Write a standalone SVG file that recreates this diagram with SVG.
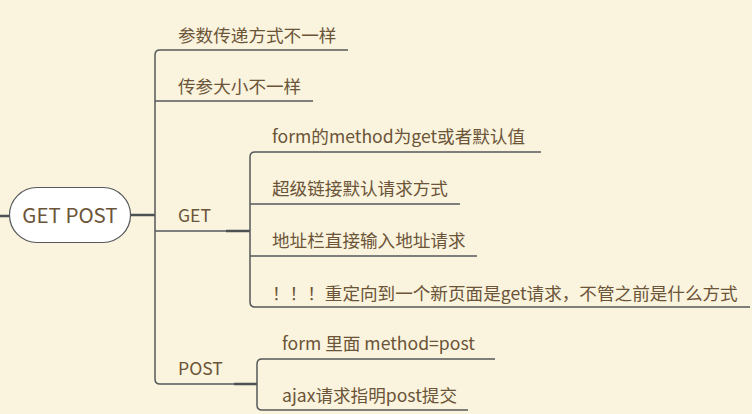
<svg xmlns="http://www.w3.org/2000/svg" width="752" height="414" viewBox="0 0 752 414">
<style>
.t{font-family:"Noto Sans CJK SC","Liberation Sans",sans-serif;font-size:17.6px;fill:#6b5438}
.l{fill:none;stroke:#55595b;stroke-width:1.5}
.b{fill:none;stroke:#4c5154;stroke-width:2.5}
</style>
<rect width="752" height="414" fill="#faf3dd"/>
<g id="connectors">
<path class="b" d="M0 216H10"/>
<path class="b" d="M130 215H155"/>
<path class="l" d="M348 50H160Q155 50 155 55V379Q155 384 160 384H257"/>
<path class="l" d="M155 101H313"/>
<path class="l" d="M155 231H250"/>
<path class="b" d="M226 231H250"/>
<path class="b" d="M234 384H257"/>
<path class="l" d="M541 152H255Q250 152 250 157V302Q250 307 255 307H750"/>
<path class="l" d="M250 204H460"/>
<path class="l" d="M250 256H477"/>
<path class="l" d="M495 359H262Q257 359 257 364V405Q257 410 262 410H468"/>
</g>
<g id="root">
<rect x="9.5" y="187.5" width="121" height="55" rx="27.5" fill="#fff" stroke="#55595b" stroke-width="1.2"/>
<text x="70" y="223" text-anchor="middle" class="t" style="font-size:20.5px">GET POST</text>
</g>
<g id="n1"><text class="t" x="178" y="42">参数传递方式不一样</text></g>
<g id="n2"><text class="t" x="178" y="93">传参大小不一样</text></g>
<g id="get"><text class="t" x="178" y="222">GET</text></g>
<g id="g1"><text class="t" x="272" y="143">form的method为get或者默认值</text></g>
<g id="g2"><text class="t" x="272" y="195">超级链接默认请求方式</text></g>
<g id="g3"><text class="t" x="272" y="247">地址栏直接输入地址请求</text></g>
<g id="g4"><text class="t" x="272" y="300">！！！重定向到一个新页面是get请求，不管之前是什么方式</text></g>
<g id="post"><text class="t" x="178" y="375">POST</text></g>
<g id="p1"><text class="t" x="282" y="350">form 里面 method=post</text></g>
<g id="p2"><text class="t" x="282" y="402">ajax请求指明post提交</text></g>
</svg>
